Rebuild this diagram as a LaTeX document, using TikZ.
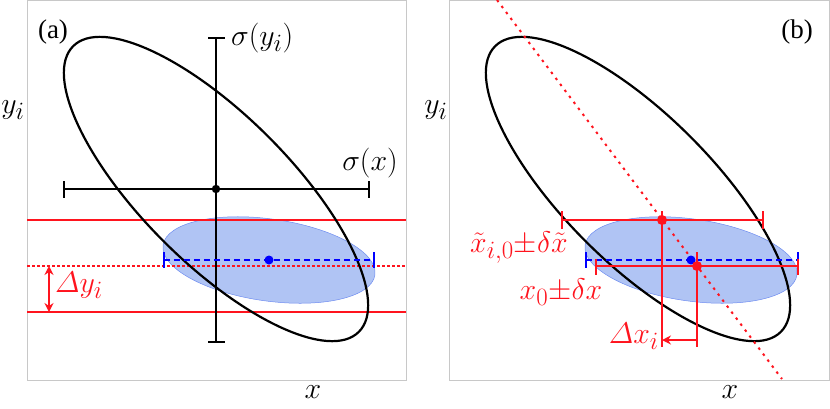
\documentclass[tikz,border=0pt]{standalone}
\usepackage{amsmath}
\usepackage{graphicx}
\usepackage{fontspec}
\newfontfamily\panelfont{Liberation Serif}
\usetikzlibrary{arrows.meta}
\definecolor{frm}{RGB}{200,200,200}
\definecolor{bfill}{RGB}{176,196,244}
\definecolor{bedge}{RGB}{110,140,240}
\definecolor{rl}{RGB}{255,20,30}
\newcommand\Lbl[1]{\scalebox{1.2}{$#1$}}
\begin{document}
\begin{tikzpicture}[x=1pt,y=-1pt,
  font=\fontsize{24.88}{30}\selectfont,
  framebox/.style={draw=frm,line width=0.8pt},
  bigell/.style={draw=black,line width=2.2pt},
  smallell/.style={fill=bfill,draw=bedge,line width=0.5pt},
  blackbar/.style={black,line width=2.2pt},
  redline/.style={rl,line width=2pt},
  reddot/.style={rl,line width=1.3pt,dash pattern=on 2.5pt off 2.5pt},
  reddiag/.style={rl,line width=2pt,dash pattern=on 2.5pt off 5pt},
  bluedash/.style={blue,line width=2pt,dash pattern=on 6pt off 4pt},
  bluecap/.style={blue,line width=2pt},
  lab/.style={inner sep=0pt},
  redlab/.style={inner sep=0pt,text=rl},
  arr/.style={rl,line width=1.5pt},
]
\useasboundingbox (0,0) rectangle (830,408);
% ---------------- panel (a)
\draw[framebox] (27,0.5) rectangle (406,380);
\coordinate (ca) at (216,189);
\coordinate (ba) at (269,260);
\filldraw[smallell,rotate around={-8:(ba)}] (ba) ellipse [x radius=107,y radius=41];
\draw[redline] (27,220) -- (406,220);
\draw[redline] (27,312) -- (406,312);
\draw[reddot] (27,266) -- (406,266);
\draw[bigell,rotate around={-45:(ca)}] (ca) ellipse [x radius=202,y radius=74];
% black error bars
\draw[blackbar] (216,38) -- (216,342);
\draw[blackbar] (208,38) -- (225,38);
\draw[blackbar] (208,342) -- (225,342);
\draw[blackbar] (64,189) -- (369,189);
\draw[blackbar] (64,181) -- (64,198);
\draw[blackbar] (369,181) -- (369,198);
\fill[black] (ca) circle (4.2);
% blue bar
\draw[bluedash] (164,260) -- (374,260);
\draw[bluecap] (164,252) -- (164,268);
\draw[bluecap] (374,252) -- (374,268);
\fill[blue] (ba) circle (4.5);
% Delta y arrow
\coordinate (dyt) at (49,266);
\coordinate (dyb) at (49,312);
\draw[arr,{Stealth[length=9pt,width=9pt]}-{Stealth[length=9pt,width=9pt]}] (dyt) -- (dyb);
\node[redlab,anchor=west] (dylab) at (55,285) {\Lbl{\varDelta y_i}};
% labels
\node[lab] (pa) at (53,32) {\panelfont\fontsize{27}{31}\selectfont (a)};
\node[lab,anchor=west] (sy) at (231,38) {\Lbl{\sigma(y_i)}};
\node[lab] (sx) at (370,163) {\Lbl{\sigma(x)}};
\node[lab] (ya) at (13,110) {\Lbl{y_i}};
\node[lab] (xa) at (313,392) {\Lbl{x}};
% ---------------- panel (b)
\draw[framebox] (449,0.5) rectangle (829.5,380);
\coordinate (cb) at (638,189);
\coordinate (bb) at (691,260);
\filldraw[smallell,rotate around={-8:(bb)}] (bb) ellipse [x radius=107,y radius=41];
\draw[bigell,rotate around={-45:(cb)}] (cb) ellipse [x radius=202,y radius=74];
\coordinate (dtop) at (497,0);
\coordinate (dbot) at (782,379);
\draw[reddiag] (dtop) -- (dbot);
% blue bar
\draw[bluedash] (586,260) -- (798,260);
\draw[bluecap] (586,252) -- (586,268);
\draw[bluecap] (798,252) -- (798,268);
% red bars
\draw[redline] (562,220) -- (763,220);
\draw[redline] (562,211) -- (562,229);
\draw[redline] (763,211) -- (763,229);
\draw[redline] (596,266) -- (798,266);
\draw[redline] (596,259) -- (596,275);
\draw[redline] (798,259) -- (798,275);
% verticals
\coordinate (v1t) at (662,211);
\coordinate (v1b) at (662,347);
\coordinate (v2t) at (697,252);
\coordinate (v2b) at (697,347);
\draw[rl,line width=1.5pt] (v1t) -- (v1b);
\draw[rl,line width=1.5pt] (v2t) -- (v2b);
\fill[blue] (bb) circle (4.5);
\fill[rl] (662,220) circle (5);
\fill[rl] (697,266) circle (5);
\coordinate (axr) at (697,340);
\coordinate (axl) at (662,340);
\draw[arr,-{Stealth[length=9pt,width=9pt]}] (axr) -- (axl);
% labels
\node[redlab] (lt) at (519,248) {\Lbl{\tilde{x}_{i,0}{\pm}\delta\tilde{x}}};
\node[redlab] (l0) at (561,292) {\Lbl{x_0{\pm}\delta x}};
\node[redlab,anchor=east] (ldx) at (659,336) {\Lbl{\varDelta x_i}};
\node[lab] (pb) at (797,32) {\panelfont\fontsize{27}{31}\selectfont (b)};
\node[lab] (yb) at (436,110) {\Lbl{y_i}};
\node[lab] (xb) at (730,392) {\Lbl{x}};
\end{tikzpicture}
\end{document}
